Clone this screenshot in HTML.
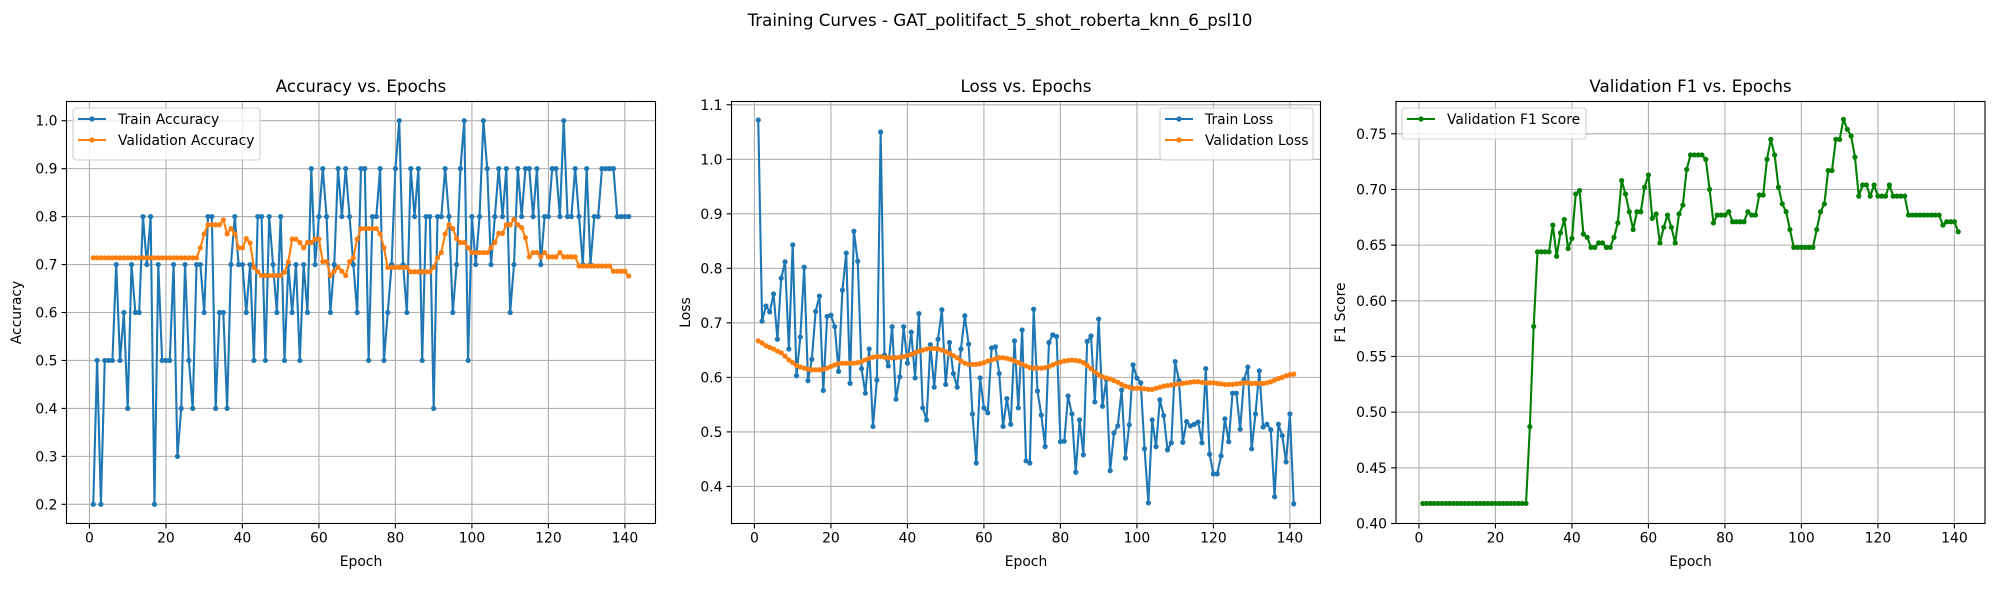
<!DOCTYPE html>
<html><head><meta charset="utf-8">
<style>
html,body{margin:0;padding:0;background:#fff;}
svg{display:block;font-family:"DejaVu Sans","Liberation Sans",sans-serif;}
</style></head>
<body>
<svg id="fig" width="2000" height="600" viewBox="0 0 2000 600" xmlns="http://www.w3.org/2000/svg">
<rect width="2000" height="600" fill="#fff"/>
<text x="1000" y="26" text-anchor="middle" font-size="16.7" fill="#000">Training Curves - GAT_politifact_5_shot_roberta_knn_6_psl10</text>
</svg>
<script>
const epochs = Array.from({length:141},(_,i)=>i+1);
const trainAcc = [.2,.5,.2,.5,.5,.5,.7,.5,.6,.4,
.7,.6,.6,.8,.7,.8,.2,.7,.5,.5,
.5,.7,.3,.4,.7,.5,.4,.7,.7,.6,
.8,.8,.4,.6,.6,.4,.7,.8,.7,.7,
.6,.7,.5,.8,.8,.5,.8,.7,.6,.8,
.5,.7,.6,.7,.5,.7,.6,.9,.7,.8,
.9,.8,.6,.7,.9,.8,.9,.8,.7,.6,
.9,.9,.5,.8,.8,.9,.5,.6,.7,.9,
1,.7,.6,.9,.8,.9,.5,.8,.8,.4,
.8,.8,.9,.8,.6,.7,.9,1,.5,.8,
.7,.8,1,.9,.7,.8,.9,.8,.9,.6,
.7,.9,.8,.9,.9,.8,.9,.7,.8,.8,
.9,.9,.8,1,.8,.8,.9,.8,.7,.9,
.7,.8,.8,.9,.9,.9,.9,.8,.8,.8,.8];
const valAcc = [.714,.714,.714,.714,.714,.714,.714,.714,.714,.714,
.714,.714,.714,.714,.714,.714,.714,.714,.714,.714,
.714,.714,.714,.714,.714,.714,.714,.714,
.735,.764,.783,.783,.783,.783,.793,.764,.775,.764,.735,.735,
.754,.745,.694,.685,.677,.677,.677,.677,.677,.677,.684,.706,
.753,.753,.746,.735,.746,.746,.753,.753,.706,.706,.677,.686,
.694,.686,.677,.706,.714,.753,.775,.775,.775,.775,.775,.764,
.735,.694,.694,.694,.694,.694,.694,.685,.685,.685,.685,.685,
.685,.694,.714,.725,.764,.783,.775,.754,.746,.746,.735,.725,
.725,.725,.725,.725,.735,.746,.765,.765,.783,.783,.794,.783,
.777,.756,.716,.725,.725,.716,.725,.716,.716,.716,.725,.716,
.716,.716,.716,.697,.697,.697,.697,.697,.697,.697,.697,.697,
.686,.686,.686,.686,.676];
const trainLoss = [1.072,.703,.731,.72,.753,.67,.782,.812,.652,.843,
.603,.674,.802,.594,.633,.721,.749,.576,.712,.714,
.693,.611,.76,.828,.589,.868,.813,.616,.571,.652,
.51,.595,1.05,.641,.621,.693,.56,.601,.693,.626,
.683,.599,.717,.544,.522,.66,.582,.67,.724,.587,
.664,.607,.582,.652,.713,.661,.533,.443,.599,.544,
.535,.654,.656,.607,.51,.561,.514,.667,.544,.687,
.447,.443,.725,.575,.531,.473,.664,.678,.675,.482,
.483,.566,.533,.426,.522,.458,.666,.676,.555,.707,
.547,.596,.429,.498,.511,.577,.452,.513,.623,.599,
.59,.469,.37,.522,.473,.559,.53,.467,.48,.629,
.594,.481,.519,.511,.514,.518,.48,.616,.459,.423,
.423,.456,.524,.482,.571,.571,.505,.596,.619,.469,
.533,.612,.509,.514,.504,.381,.514,.493,.445,.533,.368];
const valLoss = [.667,.663,.658,.655,.652,.648,.645,.639,.632,.627,
.622,.619,.617,.615,.614,.614,.614,.615,.617,.62,
.623,.625,.626,.626,.626,.626,.627,.629,.632,.635,
.637,.638,.638,.637,.636,.636,.636,.637,.638,.64,
.642,.645,.648,.65,.652,.653,.653,.652,.65,.647,
.644,.64,.636,.63,.626,.624,.624,.624,.625,.627,
.63,.632,.634,.636,.636,.635,.633,.63,.627,.624,
.621,.618,.617,.617,.617,.618,.62,.623,.626,.628,
.63,.631,.632,.631,.63,.627,.622,.616,.61,.605,
.601,.599,.597,.594,.591,.587,.584,.582,.58,.58,
.58,.579,.578,.578,.58,.582,.584,.585,.586,.587,
.588,.589,.59,.591,.592,.592,.591,.59,.59,.59,
.589,.588,.587,.587,.587,.588,.589,.59,.59,.589,
.589,.589,.589,.59,.592,.595,.598,.6,.603,.605,.606];
const valF1 = [.418,.418,.418,.418,.418,.418,.418,.418,.418,.418,
.418,.418,.418,.418,.418,.418,.418,.418,.418,.418,
.418,.418,.418,.418,.418,.418,.418,.418,
.487,.577,.644,.644,.644,.644,.668,.64,.661,.673,.647,.656,
.696,.699,.66,.657,.648,.648,.652,.652,.648,.648,
.657,.67,.708,.696,.68,.664,.68,.68,.702,.713,
.674,.678,.652,.666,.677,.666,.652,.678,.686,.718,
.731,.731,.731,.731,.727,.7,.67,.677,.677,.677,
.68,.671,.671,.671,.671,.68,.677,.677,.695,.695,
.727,.745,.731,.702,.687,.68,.664,.648,.648,.648,
.648,.648,.648,.664,.68,.687,.717,.717,.745,.745,
.763,.754,.748,.729,.694,.704,.704,.694,.704,.694,
.694,.694,.704,.694,.694,.694,.694,
.677,.677,.677,.677,.677,.677,.677,.677,.677,
.668,.671,.671,.671,.662];
const accTicks = [0.2,0.3,0.4,0.5,0.6,0.7,0.8,0.9,1.0];
const lossTicks = [0.4,0.5,0.6,0.7,0.8,0.9,1.0,1.1];
const f1Ticks = [0.40,0.45,0.50,0.55,0.60,0.65,0.70,0.75];
const xTicks = [0,20,40,60,80,100,120,140];

const NS = "http://www.w3.org/2000/svg";
const fig = document.getElementById('fig');
function mk(tag, attrs, parent){
  const e = document.createElementNS(NS, tag);
  for (const k in attrs) e.setAttribute(k, attrs[k]);
  parent.appendChild(e);
  return e;
}
const TOP=101.5, BOT=523.5;

function panel(cfg){
  const g = mk('g', {}, fig);
  
  
  const L=cfg.left, R=cfg.left+589;
  const xs = v => L + (v + 6) / 154 * 589;
  const ys = v => BOT - (v - cfg.ymin) / (cfg.ymax - cfg.ymin) * (BOT - TOP);
  xTicks.forEach(t=>{
    const ln = mk('line',{x1:xs(t),x2:xs(t),y1:TOP,y2:BOT,stroke:'#b0b0b0','stroke-width':1.1},g);
    
    
    const tk = mk('line',{x1:xs(t),x2:xs(t),y1:BOT,y2:BOT+4.9,stroke:'#000','stroke-width':1.1},g);
    
    
    const tx = mk('text',{x:xs(t),y:BOT+19,'text-anchor':'middle','font-size':13.9,fill:'#000'},g);
    tx.textContent = t;
    
    
  });
  cfg.ticks.forEach(t=>{
    const ln = mk('line',{x1:L,x2:R,y1:ys(t),y2:ys(t),stroke:'#b0b0b0','stroke-width':1.1},g);
    
    
    const tk = mk('line',{x1:L-4.9,x2:L,y1:ys(t),y2:ys(t),stroke:'#000','stroke-width':1.1},g);
    
    
    const tx = mk('text',{x:L-9,y:ys(t)+5,'text-anchor':'end','font-size':13.9,fill:'#000'},g);
    tx.textContent = t.toFixed(cfg.dec);
    
    
  });
  const clip = 'clip-'+cfg.name;
  const cp = mk('clipPath',{id:clip},g);
  mk('rect',{x:L,y:TOP,width:589,height:BOT-TOP},cp);
  cfg.series.forEach(s=>{
    const sg = mk('g',{'clip-path':'url(#'+clip+')'},g);
    
    
    const pts = s.data.map((v,i)=>xs(epochs[i]).toFixed(2)+','+ys(v).toFixed(2)).join(' ');
    const pl = mk('polyline',{points:pts,fill:'none',stroke:s.color,'stroke-width':2.1,'stroke-linejoin':'round'},sg);
    
    
    s.data.forEach((v,i)=>{
      const c = mk('circle',{cx:xs(epochs[i]),cy:ys(v),r:2.6,fill:s.color},sg);
      
      
    });
  });
  const fr = mk('rect',{x:L,y:TOP,width:589,height:BOT-TOP,fill:'none',stroke:'#000','stroke-width':1.1},g);
  
  
  const tt = mk('text',{x:L+294.5,y:92,'text-anchor':'middle','font-size':16.7,fill:'#000'},g);
  tt.textContent = cfg.title;
  
  
  const xl = mk('text',{x:L+294.5,y:566,'text-anchor':'middle','font-size':13.9,fill:'#000'},g);
  xl.textContent = 'Epoch';
  
  
  const yl = mk('text',{x:0,y:0,'text-anchor':'middle','font-size':13.9,fill:'#000',transform:'translate('+cfg.ylx+','+((TOP+BOT)/2)+') rotate(-90)'},g);
  yl.textContent = cfg.ylabel;
  
  
  const lg = mk('g',{},g);
  
  
  mk('rect',{x:cfg.lx,y:108,width:cfg.lw,height:10+cfg.series.length*21,rx:3,fill:'#fff','fill-opacity':0.8,stroke:'#d0d0d0','stroke-width':1.1},lg);
  cfg.series.forEach((s,i)=>{
    const yy = 119 + i*21;
    const le = mk('g',{},lg);
    
    
    mk('line',{x1:cfg.lx+5,x2:cfg.lx+33,y1:yy,y2:yy,stroke:s.color,'stroke-width':2.1},le);
    mk('circle',{cx:cfg.lx+19,cy:yy,r:2.6,fill:s.color},le);
    const t = mk('text',{x:cfg.lx+45,y:yy+5,'font-size':13.9,fill:'#000'},le);
    t.textContent = s.label;
  });
}
panel({name:'accuracy-chart',left:66.5,ymin:0.16,ymax:1.04,ticks:accTicks,dec:1,title:'Accuracy vs. Epochs',ylabel:'Accuracy',ylx:21,lx:73,lw:187,
  series:[{name:'train-accuracy',label:'Train Accuracy',color:'#1f77b4',data:trainAcc},{name:'validation-accuracy',label:'Validation Accuracy',color:'#ff7f0e',data:valAcc}]});
panel({name:'loss-chart',left:731.5,ymin:0.332,ymax:1.106,ticks:lossTicks,dec:1,title:'Loss vs. Epochs',ylabel:'Loss',ylx:690,lx:1160,lw:153,
  series:[{name:'train-loss',label:'Train Loss',color:'#1f77b4',data:trainLoss},{name:'validation-loss',label:'Validation Loss',color:'#ff7f0e',data:valLoss}]});
panel({name:'f1-chart',left:1396,ymin:0.40,ymax:0.779,ticks:f1Ticks,dec:2,title:'Validation F1 vs. Epochs',ylabel:'F1 Score',ylx:1345,lx:1402,lw:184,
  series:[{name:'validation-f1',label:'Validation F1 Score',color:'#008000',data:valF1}]});
</script>
</body></html>
